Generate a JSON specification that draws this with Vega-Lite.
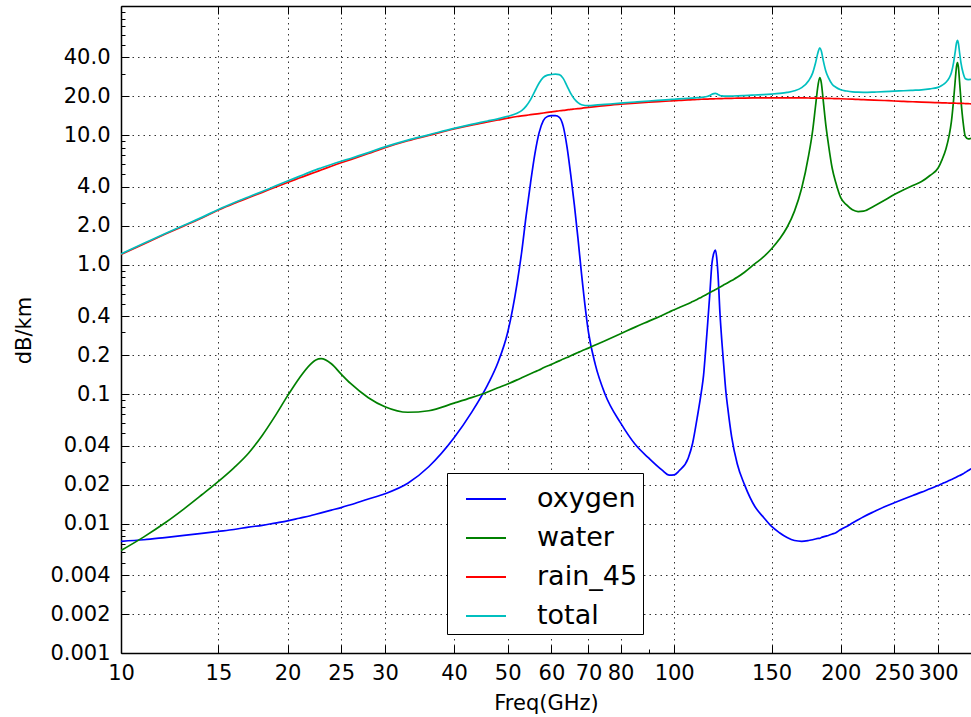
{
  "$schema": "https://vega.github.io/schema/vega-lite/v6.json",
  "width": 850,
  "height": 647,
  "autosize": {"type": "none"},
  "padding": {"left": 121, "top": 6, "right": 0, "bottom": 64},
  "background": "white",
  "config": {
    "font": "DejaVu Sans",
    "view": {"stroke": null},
    "axis": {
      "domainColor": "#000", "domainWidth": 1.5,
      "tickColor": "#000", "tickWidth": 1,
      "labelFont": "DejaVu Sans", "labelFontSize": 21, "labelColor": "#000",
      "titleFont": "DejaVu Sans", "titleFontSize": 21, "titleFontWeight": "normal", "titleColor": "#000",
      "gridColor": "#000", "gridDash": [1.5, 4], "gridWidth": 0.8
    }
  },
  "data": {"values": [
    {"f":10,"oxygen":0.0073,"water":0.0062,"rain_45":1.20,"total":1.214},
    {"f":11,"oxygen":0.0075,"water":0.0079,"rain_45":1.45,"total":1.465},
    {"f":12,"oxygen":0.0078,"water":0.0101,"rain_45":1.72,"total":1.738},
    {"f":13,"oxygen":0.0081,"water":0.0130,"rain_45":2.00,"total":2.021},
    {"f":14,"oxygen":0.0084,"water":0.0167,"rain_45":2.30,"total":2.325},
    {"f":15,"oxygen":0.0087,"water":0.0212,"rain_45":2.65,"total":2.680},
    {"f":16,"oxygen":0.0090,"water":0.0270,"rain_45":2.98,"total":3.016},
    {"f":17,"oxygen":0.0094,"water":0.0350,"rain_45":3.30,"total":3.344},
    {"f":18,"oxygen":0.0097,"water":0.048,"rain_45":3.63,"total":3.688},
    {"f":19,"oxygen":0.0101,"water":0.068,"rain_45":3.98,"total":4.058},
    {"f":20,"oxygen":0.0105,"water":0.097,"rain_45":4.33,"total":4.438},
    {"f":21,"oxygen":0.0110,"water":0.133,"rain_45":4.68,"total":4.824},
    {"f":22,"oxygen":0.0115,"water":0.170,"rain_45":5.04,"total":5.222},
    {"f":22.5,"oxygen":0.0118,"water":0.184,"rain_45":5.22,"total":5.416},
    {"f":23,"oxygen":0.0121,"water":0.188,"rain_45":5.40,"total":5.600},
    {"f":24,"oxygen":0.0127,"water":0.172,"rain_45":5.78,"total":5.965},
    {"f":25,"oxygen":0.0133,"water":0.143,"rain_45":6.15,"total":6.306},
    {"f":26,"oxygen":0.0140,"water":0.121,"rain_45":6.50,"total":6.635},
    {"f":28,"oxygen":0.0155,"water":0.094,"rain_45":7.25,"total":7.360},
    {"f":30,"oxygen":0.0170,"water":0.080,"rain_45":8.05,"total":8.147},
    {"f":33,"oxygen":0.0205,"water":0.0725,"rain_45":9.1,"total":9.193},
    {"f":36,"oxygen":0.0275,"water":0.0745,"rain_45":10.0,"total":10.102},
    {"f":40,"oxygen":0.046,"water":0.0853,"rain_45":11.2,"total":11.331},
    {"f":43,"oxygen":0.072,"water":0.094,"rain_45":12.0,"total":12.166},
    {"f":46,"oxygen":0.118,"water":0.104,"rain_45":12.7,"total":12.922},
    {"f":48,"oxygen":0.175,"water":0.112,"rain_45":13.15,"total":13.437},
    {"f":50,"oxygen":0.30,"water":0.120,"rain_45":13.6,"total":14.02},
    {"f":52,"oxygen":0.72,"water":0.129,"rain_45":14.0,"total":14.849},
    {"f":53,"oxygen":1.25,"water":0.134,"rain_45":14.15,"total":15.534},
    {"f":54,"oxygen":2.4,"water":0.139,"rain_45":14.3,"total":16.839},
    {"f":55,"oxygen":4.3,"water":0.144,"rain_45":14.45,"total":18.894},
    {"f":56,"oxygen":7.2,"water":0.149,"rain_45":14.6,"total":21.949},
    {"f":57,"oxygen":10.5,"water":0.154,"rain_45":14.75,"total":25.404},
    {"f":58,"oxygen":13.0,"water":0.160,"rain_45":14.9,"total":28.06},
    {"f":59,"oxygen":14.0,"water":0.165,"rain_45":15.05,"total":29.215},
    {"f":60,"oxygen":14.2,"water":0.170,"rain_45":15.2,"total":29.57},
    {"f":61,"oxygen":14.2,"water":0.176,"rain_45":15.35,"total":29.726},
    {"f":62,"oxygen":13.8,"water":0.181,"rain_45":15.5,"total":29.481},
    {"f":63,"oxygen":11.8,"water":0.187,"rain_45":15.6,"total":27.587},
    {"f":64,"oxygen":8.2,"water":0.192,"rain_45":15.75,"total":24.142},
    {"f":65,"oxygen":5.0,"water":0.198,"rain_45":15.9,"total":21.098},
    {"f":66,"oxygen":2.9,"water":0.204,"rain_45":16.0,"total":19.104},
    {"f":67,"oxygen":1.6,"water":0.210,"rain_45":16.1,"total":17.91},
    {"f":68,"oxygen":0.85,"water":0.216,"rain_45":16.2,"total":17.266},
    {"f":70,"oxygen":0.30,"water":0.227,"rain_45":16.45,"total":16.977},
    {"f":72,"oxygen":0.17,"water":0.240,"rain_45":16.7,"total":17.11},
    {"f":75,"oxygen":0.100,"water":0.259,"rain_45":17.0,"total":17.359},
    {"f":80,"oxygen":0.060,"water":0.293,"rain_45":17.4,"total":17.753},
    {"f":85,"oxygen":0.041,"water":0.330,"rain_45":17.75,"total":18.121},
    {"f":90,"oxygen":0.032,"water":0.367,"rain_45":18.05,"total":18.449},
    {"f":95,"oxygen":0.026,"water":0.406,"rain_45":18.3,"total":18.732},
    {"f":98,"oxygen":0.0237,"water":0.432,"rain_45":18.45,"total":18.906},
    {"f":100,"oxygen":0.0238,"water":0.450,"rain_45":18.55,"total":19.024},
    {"f":102,"oxygen":0.0255,"water":0.466,"rain_45":18.65,"total":19.142},
    {"f":106,"oxygen":0.032,"water":0.500,"rain_45":18.8,"total":19.332},
    {"f":108,"oxygen":0.042,"water":0.520,"rain_45":18.88,"total":19.442},
    {"f":110,"oxygen":0.065,"water":0.540,"rain_45":18.95,"total":19.555},
    {"f":112,"oxygen":0.105,"water":0.562,"rain_45":19.02,"total":19.687},
    {"f":113,"oxygen":0.14,"water":0.573,"rain_45":19.05,"total":19.763},
    {"f":114,"oxygen":0.22,"water":0.585,"rain_45":19.08,"total":19.885},
    {"f":115,"oxygen":0.36,"water":0.597,"rain_45":19.1,"total":20.057},
    {"f":116,"oxygen":0.60,"water":0.610,"rain_45":19.13,"total":20.34},
    {"f":117,"oxygen":1.02,"water":0.622,"rain_45":19.15,"total":20.792},
    {"f":118,"oxygen":1.24,"water":0.634,"rain_45":19.17,"total":21.044},
    {"f":118.75,"oxygen":1.30,"water":0.644,"rain_45":19.19,"total":21.134},
    {"f":119.5,"oxygen":1.08,"water":0.653,"rain_45":19.2,"total":20.933},
    {"f":120,"oxygen":0.85,"water":0.660,"rain_45":19.22,"total":20.73},
    {"f":121,"oxygen":0.42,"water":0.673,"rain_45":19.24,"total":20.333},
    {"f":122,"oxygen":0.25,"water":0.686,"rain_45":19.26,"total":20.196},
    {"f":123,"oxygen":0.16,"water":0.700,"rain_45":19.28,"total":20.14},
    {"f":124,"oxygen":0.105,"water":0.713,"rain_45":19.3,"total":20.118},
    {"f":125,"oxygen":0.078,"water":0.727,"rain_45":19.31,"total":20.115},
    {"f":127,"oxygen":0.047,"water":0.756,"rain_45":19.34,"total":20.143},
    {"f":130,"oxygen":0.029,"water":0.80,"rain_45":19.38,"total":20.209},
    {"f":134,"oxygen":0.020,"water":0.875,"rain_45":19.43,"total":20.325},
    {"f":140,"oxygen":0.0135,"water":1.02,"rain_45":19.48,"total":20.514},
    {"f":145,"oxygen":0.0112,"water":1.15,"rain_45":19.5,"total":20.661},
    {"f":150,"oxygen":0.0095,"water":1.33,"rain_45":19.52,"total":20.86},
    {"f":155,"oxygen":0.0085,"water":1.58,"rain_45":19.52,"total":21.109},
    {"f":160,"oxygen":0.0078,"water":1.95,"rain_45":19.52,"total":21.478},
    {"f":165,"oxygen":0.0074,"water":2.6,"rain_45":19.5,"total":22.107},
    {"f":170,"oxygen":0.0073,"water":3.9,"rain_45":19.48,"total":23.387},
    {"f":175,"oxygen":0.0074,"water":7.0,"rain_45":19.45,"total":26.457},
    {"f":178,"oxygen":0.0075,"water":11.0,"rain_45":19.43,"total":30.438},
    {"f":180,"oxygen":0.0076,"water":16.5,"rain_45":19.42,"total":35.928},
    {"f":182,"oxygen":0.0077,"water":24.5,"rain_45":19.4,"total":43.908},
    {"f":183.3,"oxygen":0.0077,"water":28.0,"rain_45":19.39,"total":47.398},
    {"f":184.5,"oxygen":0.0078,"water":25.5,"rain_45":19.38,"total":44.888},
    {"f":186,"oxygen":0.0079,"water":18.5,"rain_45":19.36,"total":37.868},
    {"f":188,"oxygen":0.0080,"water":12.0,"rain_45":19.34,"total":31.348},
    {"f":190,"oxygen":0.0081,"water":8.6,"rain_45":19.32,"total":27.928},
    {"f":193,"oxygen":0.0083,"water":5.6,"rain_45":19.28,"total":24.888},
    {"f":196,"oxygen":0.0085,"water":4.3,"rain_45":19.24,"total":23.549},
    {"f":200,"oxygen":0.0090,"water":3.3,"rain_45":19.2,"total":22.509},
    {"f":205,"oxygen":0.0095,"water":2.9,"rain_45":19.12,"total":22.03},
    {"f":210,"oxygen":0.0101,"water":2.66,"rain_45":19.05,"total":21.72},
    {"f":215,"oxygen":0.0107,"water":2.58,"rain_45":18.97,"total":21.561},
    {"f":220,"oxygen":0.0113,"water":2.6,"rain_45":18.9,"total":21.511},
    {"f":230,"oxygen":0.0124,"water":2.85,"rain_45":18.75,"total":21.612},
    {"f":240,"oxygen":0.0135,"water":3.15,"rain_45":18.6,"total":21.764},
    {"f":250,"oxygen":0.0145,"water":3.5,"rain_45":18.45,"total":21.965},
    {"f":260,"oxygen":0.0155,"water":3.8,"rain_45":18.32,"total":22.136},
    {"f":270,"oxygen":0.0165,"water":4.1,"rain_45":18.2,"total":22.317},
    {"f":280,"oxygen":0.0175,"water":4.4,"rain_45":18.1,"total":22.518},
    {"f":290,"oxygen":0.0186,"water":4.9,"rain_45":18.0,"total":22.919},
    {"f":300,"oxygen":0.0197,"water":5.6,"rain_45":17.9,"total":23.52},
    {"f":305,"oxygen":0.0203,"water":6.5,"rain_45":17.86,"total":24.38},
    {"f":310,"oxygen":0.0210,"water":7.9,"rain_45":17.82,"total":25.741},
    {"f":314,"oxygen":0.0215,"water":9.9,"rain_45":17.79,"total":27.712},
    {"f":317,"oxygen":0.0219,"water":12.7,"rain_45":17.77,"total":30.492},
    {"f":320,"oxygen":0.0223,"water":18.9,"rain_45":17.75,"total":36.672},
    {"f":322,"oxygen":0.0226,"water":26.0,"rain_45":17.73,"total":43.753},
    {"f":324,"oxygen":0.0229,"water":34.5,"rain_45":17.72,"total":52.243},
    {"f":325.2,"oxygen":0.0231,"water":36.5,"rain_45":17.71,"total":54.233},
    {"f":326.5,"oxygen":0.0233,"water":33.5,"rain_45":17.7,"total":51.223},
    {"f":328,"oxygen":0.0235,"water":26.0,"rain_45":17.69,"total":43.714},
    {"f":330,"oxygen":0.0238,"water":18.5,"rain_45":17.67,"total":36.194},
    {"f":333,"oxygen":0.0243,"water":12.5,"rain_45":17.65,"total":30.174},
    {"f":336,"oxygen":0.0249,"water":9.8,"rain_45":17.62,"total":27.445},
    {"f":340,"oxygen":0.0257,"water":9.4,"rain_45":17.58,"total":27.006},
    {"f":344,"oxygen":0.0266,"water":9.5,"rain_45":17.55,"total":27.077}
  ]},
  "transform": [{"fold": ["oxygen", "water", "rain_45", "total"], "as": ["series", "value"]}],
  "resolve": {"axis": {"x": "independent", "y": "independent"}},
  "layer": [
    {
      "mark": {"type": "line", "interpolate": "monotone", "strokeWidth": 1.7, "clip": true},
      "encoding": {
        "x": {
          "field": "f", "type": "quantitative",
          "scale": {"type": "log", "domain": [10, 344], "nice": false},
          "axis": {
            "orient": "bottom", "title": "Freq(GHz)",
            "values": [10, 15, 20, 25, 30, 40, 50, 60, 70, 80, 100, 150, 200, 250, 300],
            "format": "d",
            "tickSize": -8,
            "labelPadding": 17,
            "grid": true,
            "labelOverlap": false, "labelFlush": false,
            "titleX": 425, "titleY": 50, "titleBaseline": "middle", "titleAlign": "center"
          }
        },
        "y": {
          "field": "value", "type": "quantitative",
          "scale": {"type": "log", "domain": [0.001, 100], "nice": false},
          "axis": {
            "orient": "left", "title": "dB/km",
            "values": [0.001, 0.002, 0.004, 0.01, 0.02, 0.04, 0.1, 0.2, 0.4, 1, 2, 4, 10, 20, 40],
            "labelExpr": "datum.value >= 1 ? format(datum.value, '.1f') : format(datum.value, '~g')",
            "tickSize": -8,
            "labelPadding": 19,
            "grid": true,
            "labelOverlap": false, "labelFlush": false,
            "titleX": -97, "titleY": 324, "titleAngle": -90, "titleBaseline": "middle", "titleAlign": "center"
          }
        },
        "color": {
          "field": "series", "type": "nominal",
          "scale": {"domain": ["oxygen", "water", "rain_45", "total"], "range": ["#0000ff", "#008000", "#ff0000", "#00bfbf"]},
          "legend": {
            "title": null, "orient": "none", "legendX": 326, "legendY": 467,
            "strokeColor": "#000", "fillColor": "#fff", "padding": 5, "cornerRadius": 0,
            "symbolType": "stroke", "symbolSize": 1600, "symbolStrokeWidth": 2, "symbolOffset": 13,
            "labelFont": "DejaVu Sans", "labelFontSize": 27, "labelColor": "#000", "labelOffset": 30, "rowPadding": 5
          }
        }
      }
    },
    {
      "mark": {"type": "line", "opacity": 0},
      "encoding": {
        "x": {
          "field": "f", "type": "quantitative",
          "axis": {
            "orient": "top", "title": null, "labels": false, "grid": false, "domain": true,
            "values": [10, 15, 20, 25, 30, 40, 50, 60, 70, 80, 100, 150, 200, 250, 300],
            "tickSize": -8
          }
        },
        "y": {
          "field": "value", "type": "quantitative",
          "axis": {
            "orient": "left", "title": null, "labels": false, "grid": false, "domain": false,
            "values": [0.003, 0.005, 0.006, 0.007, 0.008, 0.009, 0.03, 0.05, 0.06, 0.07, 0.08, 0.09, 0.3, 0.5, 0.6, 0.7, 0.8, 0.9, 3, 5, 6, 7, 8, 9, 30, 50, 60, 70, 80, 90],
            "tickSize": -4
          }
        }
      }
    },
    {
      "mark": {"type": "line", "opacity": 0},
      "encoding": {
        "x": {
          "field": "f", "type": "quantitative",
          "axis": {
            "orient": "bottom", "title": null, "labels": false, "grid": false, "domain": false,
            "values": [90],
            "tickSize": -4
          }
        },
        "y": {"field": "value", "type": "quantitative", "axis": null}
      }
    }
  ]
}
